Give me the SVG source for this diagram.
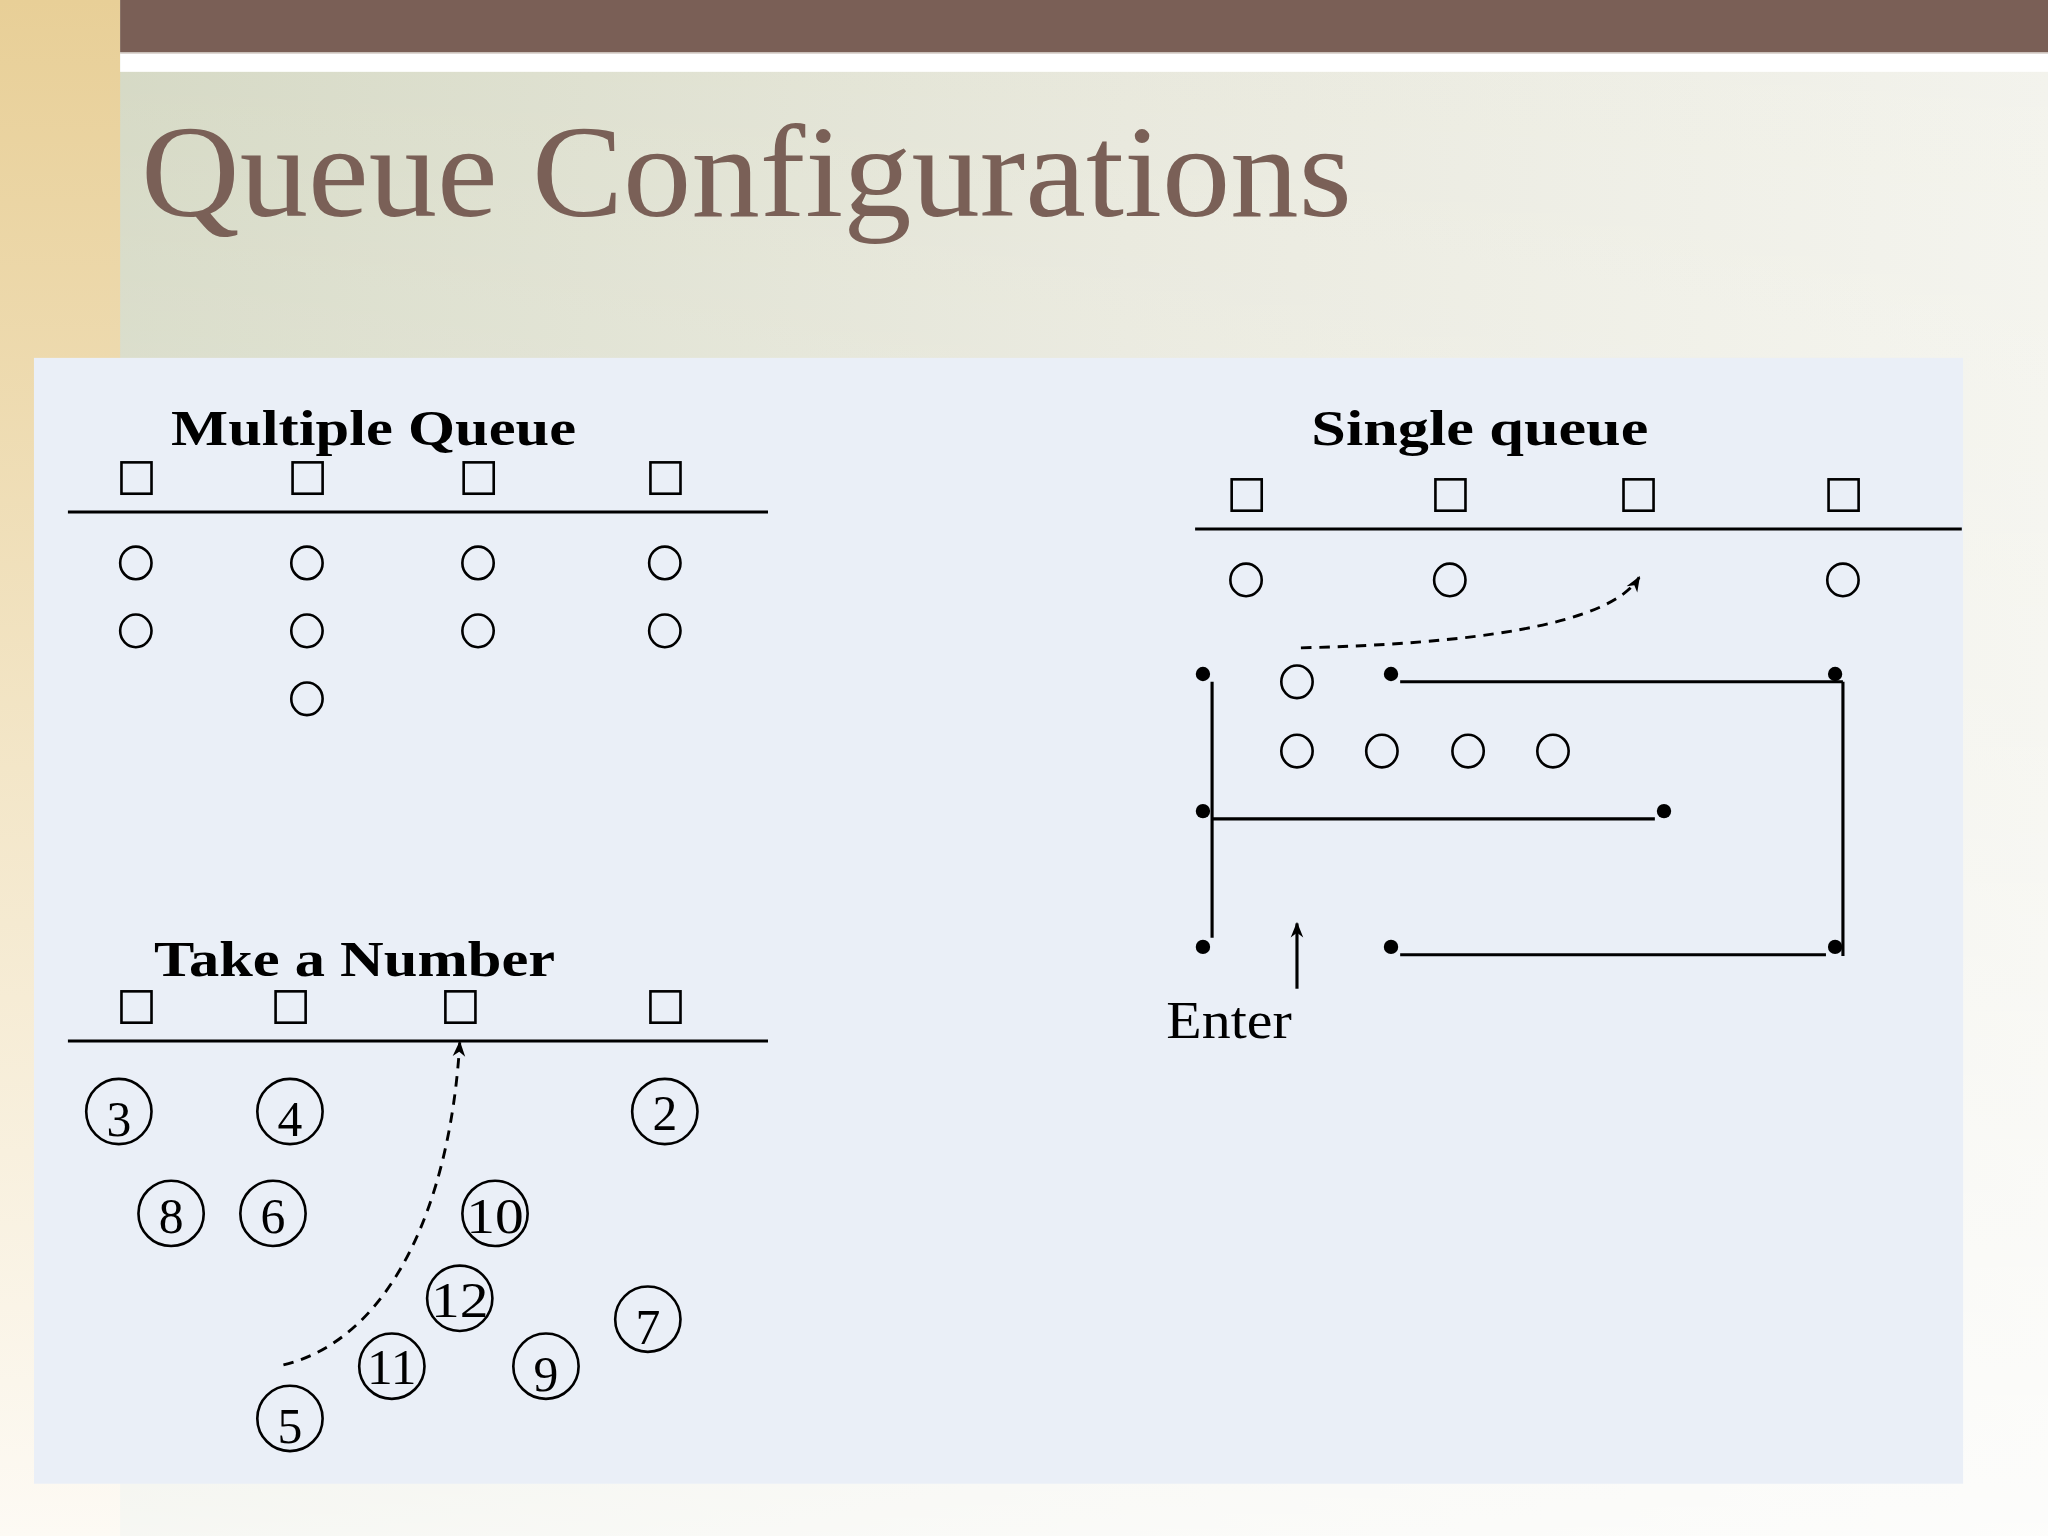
<svg xmlns="http://www.w3.org/2000/svg" width="2048" height="1536" viewBox="0 0 2048 1536">
<defs>
<linearGradient id="bgH" x1="0" y1="0" x2="1" y2="0">
<stop offset="0" stop-color="#d3d7c1"/>
<stop offset="0.55" stop-color="#e8e8dc"/>
<stop offset="1" stop-color="#f3f3ec"/>
</linearGradient>
<linearGradient id="bgV" x1="0" y1="0" x2="0" y2="1">
<stop offset="0" stop-color="#ffffff" stop-opacity="0"/>
<stop offset="0.5" stop-color="#ffffff" stop-opacity="0.3"/>
<stop offset="1" stop-color="#ffffff" stop-opacity="0.8"/>
</linearGradient>
<linearGradient id="strip" x1="0" y1="0" x2="0" y2="1">
<stop offset="0" stop-color="#e8cf97"/>
<stop offset="0.5" stop-color="#f3e6c8"/>
<stop offset="1" stop-color="#fdfaf4"/>
</linearGradient>
<marker id="ah" viewBox="0 0 10 10" refX="9" refY="5" markerWidth="12" markerHeight="12" orient="auto" markerUnits="userSpaceOnUse">
<path d="M0,1 L10,5 L0,9 L3,5 z" fill="#000"/>
</marker>
<style>
.sq{fill:none;stroke:#000;stroke-width:2}
.ci{fill:none;stroke:#000;stroke-width:2}
.nc{fill:none;stroke:#000;stroke-width:2}
.ln{stroke:#000;stroke-width:2.4;fill:none}
.dot{fill:#000}
.dash{fill:none;stroke:#000;stroke-width:2.2;stroke-dasharray:8,6}
.hd{font-family:"Liberation Serif","DejaVu Serif",serif;font-weight:bold;font-size:38px;fill:#000}
.num{font-family:"Liberation Serif","DejaVu Serif",serif;font-size:38px;fill:#000;text-anchor:middle}
.lbl{font-family:"Liberation Serif","DejaVu Serif",serif;font-size:40px;fill:#000}
</style>
</defs>
<g transform="scale(1.306122)">
<rect x="0" y="0" width="1568" height="1176" fill="url(#bgH)"/>
<rect x="0" y="0" width="1568" height="1176" fill="url(#bgV)"/>
<rect x="0" y="0" width="92" height="1176" fill="url(#strip)"/>
<rect x="92" y="0" width="1476" height="40" fill="#7a5f56"/>
<rect x="92" y="40" width="1476" height="15" fill="#ffffff"/>
<line x1="92" y1="40.5" x2="1568" y2="40.5" stroke="#bdb0a8" stroke-width="1"/>
<text x="108" y="165" font-family="Liberation Serif, DejaVu Serif, serif" font-size="100" fill="#7a6057" textLength="927" lengthAdjust="spacingAndGlyphs">Queue Configurations</text>
<rect x="26" y="274" width="1477" height="862" fill="#eaeff7"/>

<g id="multiple-queue">
<text class="hd" x="131" y="341" textLength="310" lengthAdjust="spacingAndGlyphs">Multiple Queue</text>
<rect class="sq" x="93" y="354" width="23" height="24"/>
<rect class="sq" x="224" y="354" width="23" height="24"/>
<rect class="sq" x="355" y="354" width="23" height="24"/>
<rect class="sq" x="498" y="354" width="23" height="24"/>
<line class="ln" x1="52" y1="392" x2="588" y2="392"/>
<ellipse class="ci" cx="104" cy="431" rx="12" ry="12.5"/>
<ellipse class="ci" cx="235" cy="431" rx="12" ry="12.5"/>
<ellipse class="ci" cx="366" cy="431" rx="12" ry="12.5"/>
<ellipse class="ci" cx="509" cy="431" rx="12" ry="12.5"/>
<ellipse class="ci" cx="104" cy="483" rx="12" ry="12.5"/>
<ellipse class="ci" cx="235" cy="483" rx="12" ry="12.5"/>
<ellipse class="ci" cx="366" cy="483" rx="12" ry="12.5"/>
<ellipse class="ci" cx="509" cy="483" rx="12" ry="12.5"/>
<ellipse class="ci" cx="235" cy="535" rx="12" ry="12.5"/>
</g>

<g id="take-a-number">
<text class="hd" x="118" y="747" textLength="307" lengthAdjust="spacingAndGlyphs">Take a Number</text>
<rect class="sq" x="93" y="759" width="23" height="24"/>
<rect class="sq" x="211" y="759" width="23" height="24"/>
<rect class="sq" x="341" y="759" width="23" height="24"/>
<rect class="sq" x="498" y="759" width="23" height="24"/>
<line class="ln" x1="52" y1="797" x2="588" y2="797"/>
<g id="n3"><ellipse class="nc" cx="91" cy="851" rx="25" ry="25"/><text class="num" x="91" y="870">3</text></g>
<g id="n4"><ellipse class="nc" cx="222" cy="851" rx="25" ry="25"/><text class="num" x="222" y="870">4</text></g>
<g id="n2"><ellipse class="nc" cx="509" cy="851" rx="25" ry="25"/><text class="num" x="509" y="865">2</text></g>
<g id="n8"><ellipse class="nc" cx="131" cy="929" rx="25" ry="25"/><text class="num" x="131" y="944">8</text></g>
<g id="n6"><ellipse class="nc" cx="209" cy="929" rx="25" ry="25"/><text class="num" x="209" y="944">6</text></g>
<g id="n10"><ellipse class="nc" cx="379" cy="929" rx="25" ry="25"/><text class="num" x="379" y="944" textLength="44" lengthAdjust="spacingAndGlyphs">10</text></g>
<g id="n12"><ellipse class="nc" cx="352" cy="994" rx="25" ry="25"/><text class="num" x="352" y="1008" textLength="44" lengthAdjust="spacingAndGlyphs">12</text></g>
<g id="n7"><ellipse class="nc" cx="496" cy="1010" rx="25" ry="25"/><text class="num" x="496" y="1029">7</text></g>
<g id="n11"><ellipse class="nc" cx="300" cy="1046" rx="25" ry="25"/><text class="num" x="300" y="1060" textLength="38" lengthAdjust="spacingAndGlyphs">11</text></g>
<g id="n9"><ellipse class="nc" cx="418" cy="1046" rx="25" ry="25"/><text class="num" x="418" y="1065">9</text></g>
<g id="n5"><ellipse class="nc" cx="222" cy="1086" rx="25" ry="25"/><text class="num" x="222" y="1105">5</text></g>
</g>

<g id="single-queue">
<text class="hd" x="1004" y="341" textLength="258" lengthAdjust="spacingAndGlyphs">Single queue</text>
<rect class="sq" x="943" y="367" width="23" height="24"/>
<rect class="sq" x="1099" y="367" width="23" height="24"/>
<rect class="sq" x="1243" y="367" width="23" height="24"/>
<rect class="sq" x="1400" y="367" width="23" height="24"/>
<line class="ln" x1="915" y1="405" x2="1502" y2="405"/>
<ellipse class="ci" cx="954" cy="444" rx="12" ry="12.5"/>
<ellipse class="ci" cx="1110" cy="444" rx="12" ry="12.5"/>
<ellipse class="ci" cx="1411" cy="444" rx="12" ry="12.5"/>
<ellipse class="ci" cx="993" cy="522" rx="12" ry="12.5"/>
<ellipse class="ci" cx="993" cy="575" rx="12" ry="12.5"/>
<ellipse class="ci" cx="1058" cy="575" rx="12" ry="12.5"/>
<ellipse class="ci" cx="1124" cy="575" rx="12" ry="12.5"/>
<ellipse class="ci" cx="1189" cy="575" rx="12" ry="12.5"/>
<circle class="dot" cx="921" cy="516" r="5.5"/>
<circle class="dot" cx="1065" cy="516" r="5.5"/>
<circle class="dot" cx="1405" cy="516" r="5.5"/>
<circle class="dot" cx="921" cy="621" r="5.5"/>
<circle class="dot" cx="1274" cy="621" r="5.5"/>
<circle class="dot" cx="921" cy="725" r="5.5"/>
<circle class="dot" cx="1065" cy="725" r="5.5"/>
<circle class="dot" cx="1405" cy="725" r="5.5"/>
<text class="lbl" x="893" y="795" textLength="96" lengthAdjust="spacingAndGlyphs">Enter</text>
</g>

<g id="connectors">
<line class="ln" x1="928" y1="522" x2="928" y2="718"/>
<line class="ln" x1="1072" y1="522" x2="1411" y2="522"/>
<line class="ln" x1="1411" y1="522" x2="1411" y2="732"/>
<line class="ln" x1="928" y1="627" x2="1267" y2="627"/>
<line class="ln" x1="1072" y1="731" x2="1398" y2="731"/>
<line class="ln" x1="993" y1="757" x2="993" y2="707" marker-end="url(#ah)"/>
<path class="dash" d="M996,496 C1120,493 1232,480 1255,442" marker-end="url(#ah)"/>
<path class="dash" d="M217,1045 C300,1025 345,920 352,798" marker-end="url(#ah)"/>
</g>
</g>
</svg>
